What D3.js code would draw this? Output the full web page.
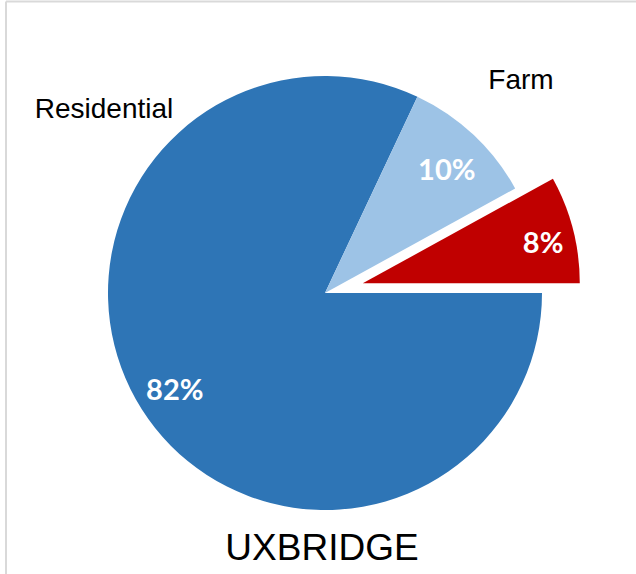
<!DOCTYPE html>
<html>
<head>
<meta charset="utf-8">
<script src="https://cdn.jsdelivr.net/npm/d3@7"></script>
<style>
  html, body { margin: 0; padding: 0; background: #fff; }
  svg { display: block; }
</style>
</head>
<body>
<svg id="chart" width="636" height="574"></svg>
<script>
// Land use shares for Uxbridge (percent), starting at 3 o'clock going clockwise
const categories = ["", "Residential", "Farm"];
const values = [8, 82, 10];
const colors = ["#C00000", "#2E75B6", "#9DC3E6"];
const exploded = [true, false, false];
const title = "UXBRIDGE";

const width = 636, height = 574;
const cx = 325, cy = 293, radius = 217, explodeDist = 39;
// small nudges of the value labels away from the slice centroids
const labelNudge = [[8, 3], [0, 1], [0, 6]];

const svg = d3.select("#chart");

// outer frame lines
svg.append("line").attr("x1", 6).attr("y1", 1.5).attr("x2", width).attr("y2", 1.5)
  .attr("stroke", "#d9d9d9").attr("stroke-width", 2);
svg.append("line").attr("x1", 6).attr("y1", 1.5).attr("x2", 6).attr("y2", height)
  .attr("stroke", "#d9d9d9").attr("stroke-width", 2);

const start = Math.PI / 2 - 2 * Math.PI * values[0] / 100;
const pie = d3.pie().sort(null).value(d => d)
  .startAngle(start).endAngle(start + 2 * Math.PI);
const arcs = pie(values);

const arc = d3.arc().innerRadius(0).outerRadius(radius);
const labelArc = d3.arc().innerRadius(radius * 0.82).outerRadius(radius * 0.82);

const g = svg.append("g").attr("transform", `translate(${cx},${cy})`);

const slice = g.selectAll("g.slice").data(arcs).join("g")
  .attr("class", "slice")
  .attr("transform", (d, i) => {
    if (!exploded[i]) return null;
    const mid = (d.startAngle + d.endAngle) / 2;
    return `translate(${Math.sin(mid) * explodeDist},${-Math.cos(mid) * explodeDist})`;
  });

slice.append("path")
  .attr("d", arc)
  .attr("fill", (d, i) => colors[i]);

slice.append("text")
  .attr("transform", (d, i) => {
    const [x, y] = labelArc.centroid(d);
    return `translate(${x + labelNudge[i][0]},${y + labelNudge[i][1]})`;
  })
  .attr("text-anchor", "middle")
  .attr("dy", "0.36em")
  .attr("fill", "#fff")
  .attr("font-family", "Lato, 'Open Sans', sans-serif")
  .attr("font-weight", "bold")
  .attr("font-size", 29)
  .text(d => d.data + "%");

// category labels outside the pie
const catLabels = [
  { name: categories[1], x: 104, y: 118 },
  { name: categories[2], x: 521, y: 89 }
];
svg.selectAll("text.cat").data(catLabels).join("text")
  .attr("class", "cat")
  .attr("x", d => d.x).attr("y", d => d.y)
  .attr("text-anchor", "middle")
  .attr("font-family", "'Liberation Sans', Arial, sans-serif")
  .attr("font-size", 28)
  .attr("fill", "#000")
  .text(d => d.name);

svg.append("text")
  .attr("x", 322).attr("y", 560)
  .attr("text-anchor", "middle")
  .attr("font-family", "'Liberation Sans', Arial, sans-serif")
  .attr("font-size", 37)
  .attr("fill", "#000")
  .text(title);
</script>
</body>
</html>
